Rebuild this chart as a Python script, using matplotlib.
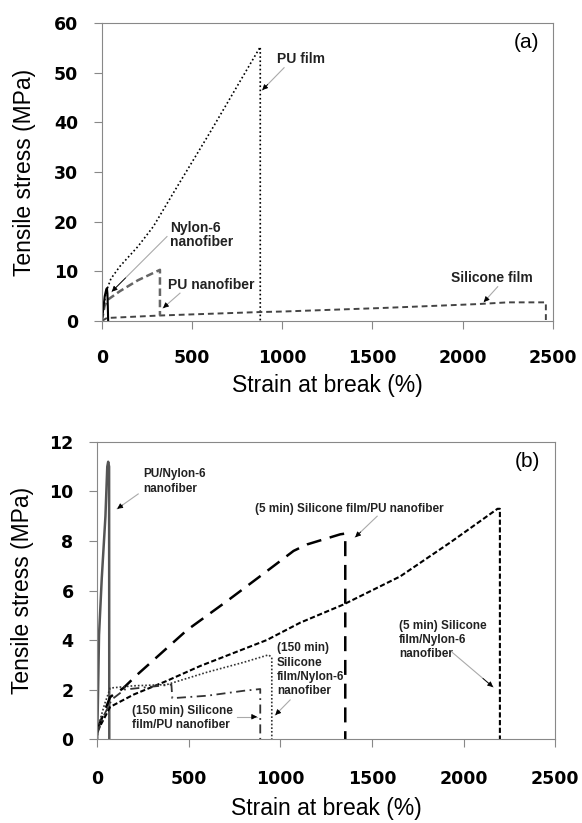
import numpy as np
import matplotlib
matplotlib.use('Agg')
import matplotlib.pyplot as plt

plt.rcParams['font.family'] = ['Liberation Sans', 'DejaVu Sans']

# ---- panel (a): single materials ----
pu_film_x = [0, 10, 25, 50, 100, 200, 285, 400, 600, 878, 878]
pu_film_y = [0, 3, 6, 8.5, 11, 15, 19, 26, 38, 55.2, 0]

nylon_x = [0, 8, 16, 24, 28, 31, 33, 35]
nylon_y = [0, 2.5, 5, 6.3, 6.6, 5.5, 3, 0]

pu_nf_x = [0, 15, 30, 100, 200, 322, 322]
pu_nf_y = [0, 3, 4.2, 6.0, 8.2, 10.3, 1.1]

sil_x = [0, 28, 322, 878, 1000, 1544, 2083, 2250, 2461, 2461]
sil_y = [0, 0.6, 1.1, 1.8, 1.9, 2.6, 3.4, 3.75, 3.75, 0]

# ---- panel (b): composites ----
pun6_x = [0, 5, 10, 25, 45, 55, 60, 65, 66]
pun6_y = [0, 2, 4.2, 6.5, 9, 11, 11.2, 11, 0]

s5_pu_x = [0, 71, 143, 217, 490, 708, 890, 1072, 1145, 1327, 1354, 1354]
s5_pu_y = [0.37, 1.7, 2.06, 2.59, 4.4, 5.57, 6.58, 7.6, 7.86, 8.27, 8.3, 0]

s5_n6_x = [0, 71, 200, 380, 562, 926, 1108, 1343, 1654, 1927, 2185, 2198, 2198]
s5_n6_y = [0.3, 1.3, 1.8, 2.35, 2.95, 4.0, 4.7, 5.43, 6.57, 7.94, 9.3, 9.3, 0]

s150_n6_x = [0, 5, 40, 71, 197, 380, 600, 800, 935, 953, 953]
s150_n6_y = [0, 0.5, 1.4, 2.06, 2.15, 2.2, 2.7, 3.1, 3.4, 3.3, 0]

s150_pu_x = [0, 33, 80, 150, 405, 410, 600, 700, 800, 890, 890]
s150_pu_y = [0.2, 0.9, 1.6, 2.0, 2.2, 1.65, 1.75, 1.85, 1.95, 2.02, 0]

xticks = [0, 500, 1000, 1500, 2000, 2500]
yticks_a = [0, 10, 20, 30, 40, 50, 60]
yticks_b = [0, 2, 4, 6, 8, 10, 12]

GRAY = '#888888'


def note(ax, text, xy, xytext, tail, size, spacing=1.05):
    """label + light gray leader with a black head"""
    ax.text(xytext[0], xytext[1], text, fontsize=size, fontweight='bold',
            color='#222222', ha='left', va='center', linespacing=spacing)
    ax.plot([tail[0], xy[0]], [tail[1], xy[1]], color='#aaaaaa', lw=0.8)
    fx = tail[0] + 0.75 * (xy[0] - tail[0])
    fy = tail[1] + 0.75 * (xy[1] - tail[1])
    ax.annotate('', xy=xy, xytext=(fx, fy),
                arrowprops=dict(arrowstyle='-|>', color='black', lw=0.6,
                                mutation_scale=8, shrinkA=0, shrinkB=0))


def style(ax, ylim, yticks, pad_x, xl_y, yl_x):
    ax.set_xlim(0, 2500)
    ax.set_ylim(*ylim)
    ax.set_xticks(xticks)
    ax.set_yticks(yticks)
    for s in ax.spines.values():
        s.set_color(GRAY)
    ax.tick_params(axis='x', direction='out', length=6, color=GRAY, pad=pad_x,
                   labelsize=12.5)
    ax.tick_params(axis='y', direction='out', length=6, color=GRAY, pad=11,
                   labelsize=12.5)
    for lbl in ax.get_xticklabels() + ax.get_yticklabels():
        lbl.set_family('DejaVu Sans')
        lbl.set_fontweight('bold')
    ax.set_xlabel('Strain at break (%)', fontsize=16.5, va='center')
    ax.set_ylabel('Tensile stress (MPa)', fontsize=16.5, va='center')
    ax.xaxis.set_label_coords(0.5, xl_y)
    ax.yaxis.set_label_coords(yl_x, 0.5)


fig = plt.figure(figsize=(5.82, 8.23), dpi=100)
ax1 = fig.add_axes([0.175, 0.610, 0.775, 0.362])
ax2 = fig.add_axes([0.167, 0.102, 0.787, 0.361])

# (a)
ax1.plot(pu_film_x, pu_film_y, color='black', lw=1.2, ls=(0, (1, 1.5)))
ax1.plot(sil_x, sil_y, color='#444444', lw=1.4, ls=(0, (3, 2)))
ax1.plot(pu_nf_x, pu_nf_y, color='#666666', lw=1.8, ls=(0, (3, 1.5)))
ax1.plot(nylon_x, nylon_y, color='black', lw=1.5)
style(ax1, (0, 60), yticks_a, 14, -0.215, -0.171)
ax1.text(2355, 56, '(a)', fontsize=15, ha='center', va='center')
note(ax1, 'PU film', (889, 46.5), (972, 52.7), (1010, 51.0), 10)
note(ax1, 'Nylon-6\nnanofiber', (55, 5.9), (380, 17.3), (361, 17.0), 10)
note(ax1, 'PU nanofiber', (339, 2.6), (367, 7.2), (433, 5.6), 10)
note(ax1, 'Silicone film', (2117, 3.8), (1933, 8.6), (2194, 6.9), 10)

# (b)
ax2.plot(pun6_x, pun6_y, color='#555555', lw=1.8)
ax2.plot(s5_pu_x, s5_pu_y, color='black', lw=1.8, ls=(0, (6, 3.5)))
ax2.plot(s5_n6_x, s5_n6_y, color='black', lw=1.5, ls=(0, (2.5, 1.2)))
ax2.plot(s150_n6_x, s150_n6_y, color='#333333', lw=1.2, ls=(0, (1, 1.2)))
ax2.plot(s150_pu_x, s150_pu_y, color='#333333', lw=1.3, ls=(0, (5, 2.5, 1, 2.5)))
style(ax2, (0, 12), yticks_b, 16.5, -0.235, -0.162)
ax2.text(2347, 11.2, '(b)', fontsize=15, ha='center', va='center')
note(ax2, 'PU/Nylon-6\nnanofiber', (109, 9.3), (252, 10.4), (224, 9.9), 8.5, 1.25)
note(ax2, '(5 min) Silicone film/PU nanofiber', (1408, 8.15), (862, 9.3),
     (1528, 9.0), 8.5)
note(ax2, '(5 min) Silicone\nfilm/Nylon-6\nnanofiber', (2161, 2.1), (1648, 4.0),
     (1938, 3.5), 8.5, 1.25)
note(ax2, '(150 min)\nSilicone\nfilm/Nylon-6\nnanofiber', (972, 0.97), (982, 2.8),
     (1053, 1.58), 8.5, 1.25)
note(ax2, '(150 min) Silicone\nfilm/PU nanofiber', (873, 0.9), (191, 0.85),
     (764, 0.9), 8.5, 1.25)

fig.savefig('out.png', dpi=100)
